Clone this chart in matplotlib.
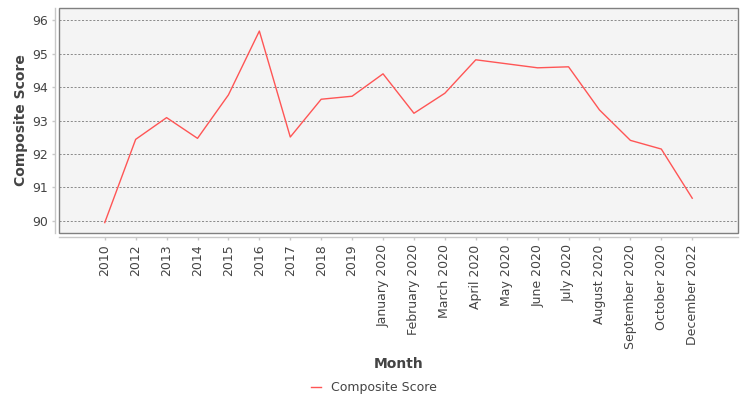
import numpy as np
import matplotlib
matplotlib.use("Agg")
import matplotlib.pyplot as plt
from matplotlib.patches import Rectangle

plt.rcParams['font.family'] = ['DejaVu Sans']
plt.rcParams['lines.scale_dashes'] = False

# data
months = ['2010', '2012', '2013', '2014', '2015', '2016', '2017', '2018', '2019',
          'January 2020', 'February 2020', 'March 2020', 'April 2020', 'May 2020',
          'June 2020', 'July 2020', 'August 2020', 'September 2020', 'October 2020',
          'December 2022']
scores = [89.95, 92.44, 93.09, 92.47, 93.77, 95.68, 92.51, 93.64, 93.73,
          94.40, 93.22, 93.82, 94.82, 94.70, 94.58, 94.61, 93.32, 92.41, 92.15,
          90.68]
y_ticks = [90, 91, 92, 93, 94, 95, 96]

W, H = 750, 400
fig = plt.figure(figsize=(7.5, 4), dpi=100)
ax = fig.add_axes([59.3 / W, 1 - 233.3 / H, (738.3 - 59.3) / W, (233.3 - 8.3) / H])
ax.set_facecolor('#f4f4f4')

x = np.arange(len(months))
ax.plot(x, scores, color='#ff5555', linewidth=1, label='Composite Score')

ax.set_xlim(-1.47, len(months) - 1 + 1.49)
ax.set_ylim(89.63, 96.36)

# horizontal grid
for yv in y_ticks:
    ax.axhline(yv, color='#7a7a7a', linewidth=0.6, linestyle=(0, (1.5, 1.2)), zorder=0.5)

# plot frame
ax.add_patch(Rectangle((0, 0), 1, 1, transform=ax.transAxes, fill=False,
                       edgecolor='#808080', linewidth=1, clip_on=False, zorder=3))

# offset axis lines
for s in ['top', 'right']:
    ax.spines[s].set_visible(False)
for s in ['left', 'bottom']:
    ax.spines[s].set_position(('outward', 2.9))
    ax.spines[s].set_color('#c8c8c8')
    ax.spines[s].set_linewidth(1)

ax.set_yticks(y_ticks)
ax.set_xticks(x)
ax.set_xticklabels(months, rotation=90, ha='center', va='top')
ax.tick_params(axis='both', colors='#c8c8c8', labelcolor='#444444', labelsize=9,
               length=2, width=1, pad=3)

fig.text(20.7 / W, 1 - 120.5 / H, 'Composite Score', rotation=90, ha='center', va='center',
         fontsize=10, fontweight='bold', color='#444444')
fig.text(398.5 / W, 1 - 364 / H, 'Month', ha='center', va='center',
         fontsize=10, fontweight='bold', color='#444444')

fig.legend(loc='center', bbox_to_anchor=(374 / W, 1 - 388 / H), frameon=False,
           fontsize=9, handlelength=0.8, handletextpad=0.8, labelcolor='#444444')

fig.savefig('out.png', dpi=100)
